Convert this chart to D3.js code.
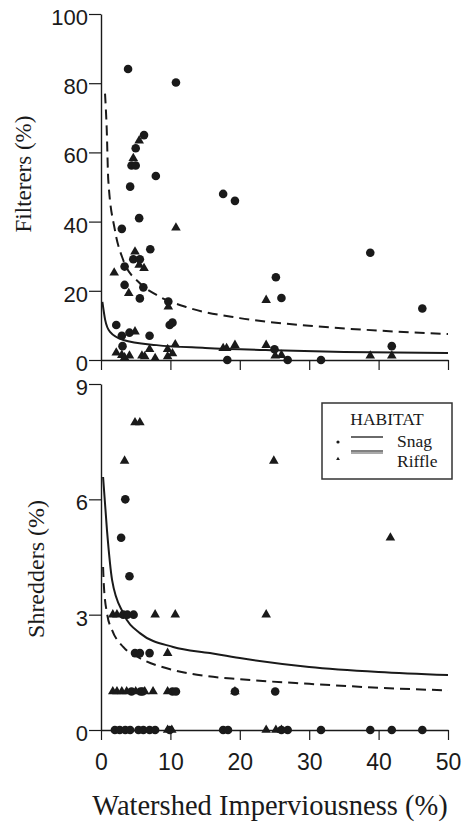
<!DOCTYPE html>
<html><head><meta charset="utf-8">
<script src="https://cdn.jsdelivr.net/npm/d3@7"></script>
<style>body{margin:0;background:#fff}</style></head>
<body><svg id="c" width="462" height="825"></svg>
<script>
// ---------- DATA ----------
const xTicks = [0, 10, 20, 30, 40, 50];
const filtTicks = [0, 20, 40, 60, 80, 100];
const shredTicks = [0, 3, 6, 9];

// Filterers (%) - Snag (circles)
const filtSnagX = [3.9,10.8,6.2,5.0,4.4,5.0,7.9,4.2,5.5,3.0,7.1,4.65,5.6,3.4,3.4,6.1,5.6,9.7,2.2,9.9,10.3,3.0,4.1,7.0,3.1,17.6,19.3,38.8,25.2,26.0,46.3,18.2,25.0,26.9,31.7,41.9];
const filtSnagY = [84.1,80.2,65,61.2,56.2,56.2,53.2,50.1,41,37.9,32,29.1,29.1,27,21.7,21,17.8,16.9,10.1,10.1,10.8,7.0,7.9,7.0,4.0,48,46,31,23.9,17.9,14.9,0,3.1,0,0,4.0];
// Filterers (%) - Riffle (triangles)
const filtRiffX = [5.5,4.65,10.8,4.9,5.5,6.2,1.9,4.0,9.7,4.9,10.7,2.2,3.0,3.4,4.1,5.9,6.3,7.0,7.8,9.6,10.3,9.6,17.6,18.1,19.3,23.8,23.8,25.1,26.0,38.8,41.9];
const filtRiffY = [63.4,58.3,38.2,31.3,27.5,26.5,25.2,19.3,15.4,8.2,4.5,2.1,1.4,0.7,1.2,1.2,1.0,3.1,0.5,3.1,1.9,1.0,3.4,3.4,4.3,4.3,17.3,1.2,1.4,1.2,1.2];

// Shredders (%) - Snag (circles)
const shredSnagX = [3.5,2.9,4.1,3.2,3.8,4.7,4.9,5.6,7.0,4.4,5.7,6.0,10.3,10.8,19.3,25.1,2.0,2.7,3.5,4.2,5.4,6.1,7.0,7.8,9.9,17.6,18.3,26.0,26.9,31.7,38.8,41.9,46.3];
const shredSnagY = [6,5,4,3,3,3,2,2,2,1,1,1,1,1,1,1,0,0,0,0,0,0,0,0,0,0,0,0,0,0,0,0,0];
// Shredders (%) - Riffle (triangles)
const shredRiffX = [4.9,5.6,3.4,24.9,41.7,1.7,2.3,7.8,10.7,23.8,9.6,1.7,2.3,3.0,3.7,5.0,6.3,7.5,9.6,19.3,9.6,10.2,23.8,25.2,26.0];
const shredRiffY = [8,8,7,7,5,3,3,3,3,3,2,1,1,1,1,1,1,1,1,1,0,0,0,0,0];

// Fitted curves
const filtDashX = [0.58,0.82,1.05,2.0,3.2,5.6,8,12.8,20,30,40,50];
const filtDashY = [77,67,52,37.6,28.9,22.2,18.8,15,12.1,9.9,8.5,7.5];
const filtSolidX = [0.2,0.6,1.3,3.2,8,15,25,35,50];
const filtSolidY = [16.8,11.6,8.1,5.8,4.3,3.5,2.8,2.3,2.0];
const shredSolidX = [0.3,0.86,1.6,3.2,5.6,10.4,15.7,20,30,40,50];
const shredSolidY = [6.58,5.2,3.9,3.04,2.52,2.16,2.0,1.87,1.64,1.51,1.43];
const shredDashX = [0.3,0.4,0.9,1.6,3.2,5.6,10.4,15.3,20,30,40,50];
const shredDashY = [4.24,3.8,3.0,2.6,2.16,1.87,1.56,1.4,1.32,1.2,1.1,1.03];

const legendLabels = ["Snag", "Riffle"];

// ---------- CHART ----------
const svg = d3.select("#c");
const ink = "#1a1a1a";
const x = d3.scaleLinear().domain([0, 50]).range([101, 448]);
const yTop = d3.scaleLinear().domain([0, 100]).range([360, 14]);
const yBot = d3.scaleLinear().domain([0, 9]).range([730, 384]);

function styleAxis(g, fs) {
  g.select(".domain").attr("stroke", ink).attr("stroke-width", 1.4);
  g.selectAll(".tick line").attr("stroke", ink).attr("stroke-width", 1.2);
  g.selectAll(".tick text").attr("fill", ink)
    .style("font-family", "'Liberation Sans', Arial, sans-serif")
    .style("font-size", fs + "px");
}

// top panel axes
svg.append("g").attr("transform", "translate(0,360)")
  .call(d3.axisBottom(x).tickValues(xTicks).tickSize(10).tickSizeOuter(0).tickFormat(""))
  .call(g => styleAxis(g, 20));
svg.append("g").attr("transform", "translate(101,0)")
  .call(d3.axisLeft(yTop).tickValues(filtTicks).tickSize(12).tickSizeOuter(0).tickPadding(1))
  .call(g => styleAxis(g, 22))
  .call(g => g.selectAll(".tick text").attr("dy", "0.48em"));

// bottom panel axes
svg.append("g").attr("transform", "translate(0,730)")
  .call(d3.axisBottom(x).tickValues(xTicks).tickSize(10).tickSizeOuter(0).tickPadding(14))
  .call(g => styleAxis(g, 23));
svg.append("g").attr("transform", "translate(101,0)")
  .call(d3.axisLeft(yBot).tickValues(shredTicks).tickSize(12).tickSizeOuter(0).tickPadding(1))
  .call(g => styleAxis(g, 22))
  .call(g => g.selectAll(".tick text").attr("dy", "0.48em"));

// axis titles
const serif = "'Liberation Serif', 'Times New Roman', serif";
svg.append("text").attr("transform", "translate(31,174) rotate(-90)")
  .attr("text-anchor", "middle").style("font-family", serif).style("font-size", "23px")
  .attr("fill", ink).text("Filterers (%)");
svg.append("text").attr("transform", "translate(44,569) rotate(-90)")
  .attr("text-anchor", "middle").style("font-family", serif).style("font-size", "24px")
  .attr("fill", ink).text("Shredders (%)");
svg.append("text").attr("x", 270).attr("y", 815)
  .attr("text-anchor", "middle").style("font-family", serif).style("font-size", "28.5px")
  .attr("fill", ink).text("Watershed Imperviousness (%)");

// curves
function curve(xs, ys, yS, dashed) {
  const pts = xs.map((v, i) => [v, ys[i]]);
  svg.append("path").datum(pts)
    .attr("d", d3.line().x(d => x(d[0])).y(d => yS(d[1])).curve(d3.curveMonotoneX))
    .attr("fill", "none").attr("stroke", ink).attr("stroke-width", 2)
    .attr("stroke-dasharray", dashed ? "10,6" : null);
}
curve(filtDashX, filtDashY, yTop, true);
curve(filtSolidX, filtSolidY, yTop, false);
curve(shredSolidX, shredSolidY, yBot, false);
curve(shredDashX, shredDashY, yBot, true);

// points
const tri = d3.symbol().type(d3.symbolTriangle).size(40);
function circles(xs, ys, yS) {
  svg.append("g").selectAll("circle").data(xs.map((v, i) => [v, ys[i]])).join("circle")
    .attr("cx", d => x(d[0])).attr("cy", d => yS(d[1])).attr("r", 4.3).attr("fill", ink);
}
function triangles(xs, ys, yS) {
  svg.append("g").selectAll("path").data(xs.map((v, i) => [v, ys[i]])).join("path")
    .attr("d", tri).attr("transform", d => `translate(${x(d[0])},${yS(d[1])})`).attr("fill", ink);
}
circles(filtSnagX, filtSnagY, yTop);
triangles(filtRiffX, filtRiffY, yTop);
circles(shredSnagX, shredSnagY, yBot);
triangles(shredRiffX, shredRiffY, yBot);

// legend
const lg = svg.append("g");
lg.append("rect").attr("x", 322).attr("y", 403).attr("width", 130).attr("height", 76)
  .attr("fill", "#fff").attr("stroke", "#333").attr("stroke-width", 1.5);
lg.append("text").attr("x", 387).attr("y", 425).attr("text-anchor", "middle")
  .style("font-family", serif).style("font-size", "17.5px").attr("fill", ink).text("HABITAT");
lg.append("circle").attr("cx", 338).attr("cy", 442).attr("r", 1.6).attr("fill", ink);
lg.append("path").attr("d", d3.symbol().type(d3.symbolTriangle).size(6))
  .attr("transform", "translate(338,459)").attr("fill", ink);
lg.append("line").attr("x1", 351).attr("x2", 383).attr("y1", 437).attr("y2", 437)
  .attr("stroke", ink).attr("stroke-width", 1.3);
lg.append("line").attr("x1", 351).attr("x2", 383).attr("y1", 451).attr("y2", 451)
  .attr("stroke", ink).attr("stroke-width", 1.1);
lg.append("line").attr("x1", 351).attr("x2", 383).attr("y1", 453).attr("y2", 453)
  .attr("stroke", "#555").attr("stroke-width", 1);
lg.selectAll("text.lab").data(legendLabels).join("text").attr("class", "lab")
  .attr("x", 397).attr("y", (d, i) => 447 + i * 20)
  .style("font-family", serif).style("font-size", "17.5px").attr("fill", ink).text(d => d);
</script></body></html>
